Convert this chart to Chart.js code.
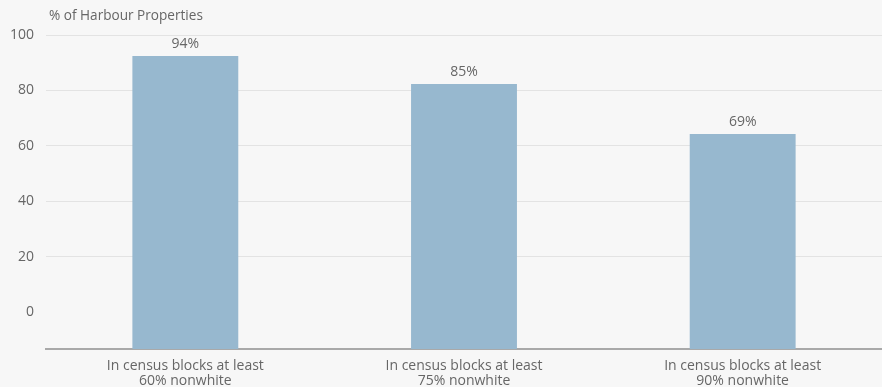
<!DOCTYPE html>
<html>
<head>
<meta charset="utf-8">
<script src="https://cdn.jsdelivr.net/npm/chart.js@4"></script>
<style>
  html, body { margin: 0; padding: 0; background: #f7f7f7; }
  #wrap { width: 882px; height: 387px; position: relative; }
</style>
</head>
<body>
<div id="wrap"><canvas id="barChart"></canvas></div>
<script>
// datos
const categories = [
    ['In census blocks at least', '60% nonwhite'],
    ['In census blocks at least', '75% nonwhite'],
    ['In census blocks at least', '90% nonwhite']
];
const barValues = [92.4, 82.3, 64.3];      // altura de barra según la escala
const barLabels = ['94%', '85%', '69%'];   // etiquetas impresas sobre las barras
const yTicks = [0, 20, 40, 60, 80, 100];
const yTitle = '% of Harbour Properties';

const textColor = '#666666';
const fontFamily = '"Open Sans", sans-serif';

// título del eje Y arriba a la izquierda
const yTitlePlugin = {
    id: 'yTitle',
    afterDraw(chart) {
        const c = chart.ctx;
        c.save();
        c.font = '13.6px ' + fontFamily;
        c.fillStyle = textColor;
        c.textBaseline = 'middle';
        c.textAlign = 'left';
        c.fillText(yTitle, 49, 16);
        c.restore();
    }
};

// etiquetas de valor encima de cada barra
const valueLabelPlugin = {
    id: 'valueLabels',
    afterDatasetsDraw(chart) {
        const c = chart.ctx;
        const meta = chart.getDatasetMeta(0);
        c.save();
        c.font = '14px ' + fontFamily;
        c.fillStyle = textColor;
        c.textAlign = 'center';
        c.textBaseline = 'middle';
        meta.data.forEach((bar, i) => {
            c.fillText(barLabels[i], bar.x, bar.y - 12);
        });
        c.restore();
    }
};

document.addEventListener('DOMContentLoaded', function() {
    const ctx = document.getElementById('barChart').getContext('2d');

    new Chart(ctx, {
        type: 'bar',
        data: {
            labels: categories,
            datasets: [{
                data: barValues,
                base: -13.3,
                backgroundColor: '#97b8cf',
                borderWidth: 0,
                categoryPercentage: 1,
                barPercentage: 0.38
            }]
        },
        options: {
            responsive: true,
            maintainAspectRatio: false,
            animation: false,
            layout: { padding: { top: 35, left: 0, right: 0, bottom: 0 } },
            plugins: {
                legend: { display: false },
                tooltip: { enabled: false }
            },
            scales: {
                y: {
                    min: -13.3,
                    max: 100,
                    afterBuildTicks(scale) {
                        scale.ticks = yTicks.map(v => ({ value: v }));
                    },
                    afterFit(scale) {
                        scale.width = 46;
                    },
                    border: { display: false },
                    grid: {
                        color: c => (c.tick && c.tick.value === 0) ? 'rgba(0,0,0,0)' : '#e3e3e3',
                        drawTicks: false
                    },
                    ticks: {
                        color: textColor,
                        padding: 12,
                        font: { family: fontFamily, size: 14 }
                    }
                },
                x: {
                    afterFit(scale) {
                        scale.height = 38;
                    },
                    border: { display: true, color: '#a9a9a9', width: 2 },
                    grid: { display: false, drawTicks: false },
                    ticks: {
                        color: textColor,
                        padding: 10,
                        maxRotation: 0,
                        font: { family: fontFamily, size: 14, lineHeight: 1.07 }
                    }
                }
            }
        },
        plugins: [yTitlePlugin, valueLabelPlugin]
    });
});
</script>
</body>
</html>
